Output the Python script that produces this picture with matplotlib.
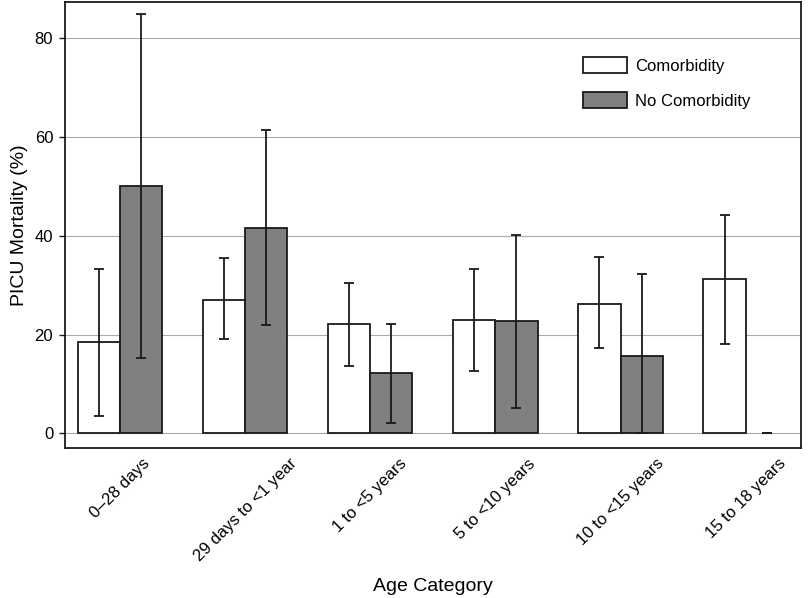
import numpy as np
import matplotlib
matplotlib.use("Agg")
import matplotlib.pyplot as plt

plt.rcParams['font.family'] = ['Liberation Sans', 'DejaVu Sans']

categories = ['0\u201328 days', '29 days to <1 year', '1 to <5 years',
              '5 to <10 years', '10 to <15 years', '15 to 18 years']

# mortality (%) with 95% CI bounds
comorb = [18.6, 27.1, 22.1, 23.0, 26.3, 31.3]
comorb_lo = [3.6, 19.2, 13.6, 12.7, 17.2, 18.2]
comorb_hi = [33.2, 35.6, 30.5, 33.2, 35.7, 44.3]

nocomorb = [50.0, 41.6, 12.2, 22.7, 15.7, 0.0]
nocomorb_lo = [15.2, 21.9, 2.2, 5.1, 0.0, 0.0]
nocomorb_hi = [84.9, 61.4, 22.2, 40.2, 32.3, 0.0]

x = np.arange(len(categories))
w = 0.337

fig = plt.figure(figsize=(8.1, 5.98), dpi=100)
ax = fig.add_axes([0.0802, 0.2513, 0.9083, 0.7454])

def draw(vals, lo, hi, offset, color, label):
    vals = np.array(vals)
    err = [vals - np.array(lo), np.array(hi) - vals]
    bars = ax.bar(x + offset, vals, w, color=color, edgecolor='#1a1a1a',
                  linewidth=1.3, label=label, zorder=2)
    for b, v in zip(bars, vals):
        if v == 0:
            b.set_linewidth(0)
    ax.errorbar(x + offset, vals, yerr=err, fmt='none', ecolor='#1a1a1a',
                elinewidth=1.3, capsize=3.4, capthick=1.3, zorder=3)

draw(comorb, comorb_lo, comorb_hi, -w / 2, 'white', 'Comorbidity')
draw(nocomorb, nocomorb_lo, nocomorb_hi, w / 2, '#808080', 'No Comorbidity')

ax.set_xlim(-0.44, 5.44)
ax.set_ylim(-2.9, 87.35)
ax.set_yticks([0, 20, 40, 60, 80])
ax.yaxis.grid(True, color='#aaaaaa', linewidth=0.8, zorder=0)
ax.set_axisbelow(True)
ax.tick_params(axis='y', length=4.5, width=1.0, labelsize=12, pad=4, color='#1a1a1a')
ax.set_xticks(x)
ax.set_xticklabels(categories, rotation=45, ha='center', va='top', fontsize=12)
ax.tick_params(axis='x', length=0, pad=6)
for s in ax.spines.values():
    s.set_linewidth(1.3)
    s.set_color('#1a1a1a')

ax.set_ylabel('PICU Mortality (%)', fontsize=14, labelpad=5)
ax.set_xlabel('Age Category', fontsize=14, labelpad=10)

ax.legend(loc='upper left', bbox_to_anchor=(0.7045, 0.876), frameon=False,
          fontsize=12, handlelength=2.64, handleheight=1.08,
          handletextpad=0.45, labelspacing=1.09, borderpad=0, borderaxespad=0)

fig.savefig('out.png', dpi=100)
